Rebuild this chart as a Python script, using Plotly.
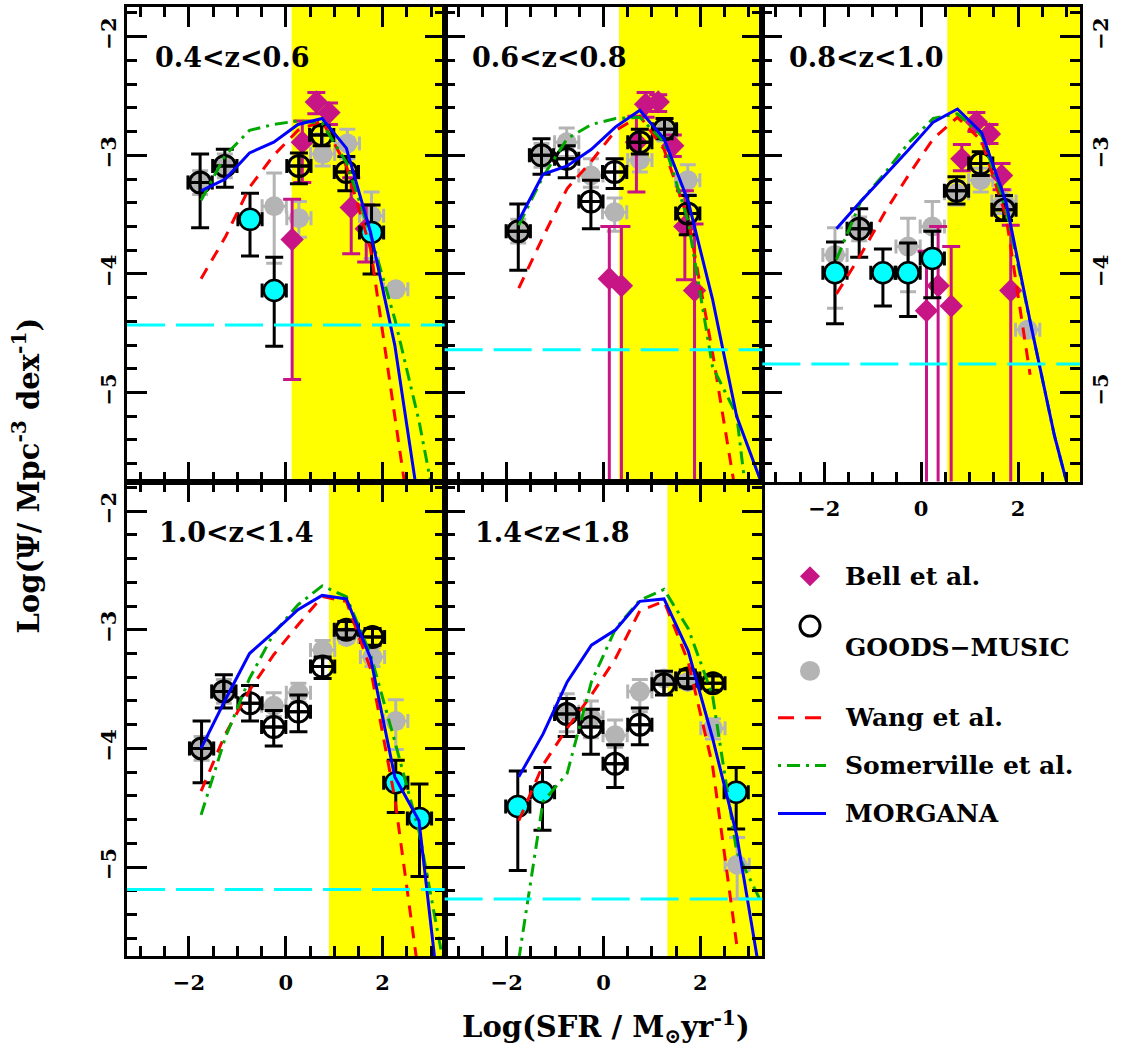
import plotly.graph_objects as go

FONT = "DejaVu Serif"

panel_labels = ["0.4<z<0.6", "0.6<z<0.8", "0.8<z<1.0", "1.0<z<1.4", "1.4<z<1.8"]

# model curves (log SFR grid)
model_x = [-1.75, -1.25, -0.75, -0.25, 0.25, 0.75, 1.25, 1.75, 2.25, 2.75, 3.25]
morgana_y = [
    [-3.30, -3.20, -2.98, -2.89, -2.74, -2.69, -2.94, -3.65, -4.60, -5.96, None],
    [-3.55, -3.16, -3.09, -2.95, -2.76, -2.62, -2.86, -3.39, -4.21, -5.20, -5.75],
    [-3.62, -3.39, -3.17, -2.95, -2.72, -2.61, -2.81, -3.39, -4.40, -5.36, -6.14],
    [-4.00, -3.59, -3.20, -3.02, -2.83, -2.71, -2.74, -3.24, -4.24, -4.61, -6.40],
    [-4.24, -3.88, -3.44, -3.13, -3.00, -2.76, -2.74, -3.18, -3.91, -4.73, -5.95],
]
somerville_y = [
    [-3.38, -3.00, -2.79, -2.74, -2.71, -2.73, -3.06, -3.67, -4.38, -5.24, -6.30],
    [-3.59, -3.18, -2.86, -2.74, -2.69, -2.68, -2.89, -3.56, -4.78, -5.19, -6.90],
    [-3.88, -3.39, -3.15, -2.89, -2.69, -2.65, -2.83, -3.45, -4.40, -5.36, -6.14],
    [-4.56, -3.91, -3.41, -3.03, -2.79, -2.63, -2.72, -3.21, -3.94, -4.70, -5.80],
    [-5.78, -4.45, -4.21, -3.44, -2.99, -2.75, -2.66, -2.99, -3.55, -4.87, -5.29],
]
wang_y = [
    [-4.04, -3.69, -3.27, -3.00, -2.79, -2.71, -3.09, -3.79, -5.20, -6.60, None],
    [-4.12, -3.69, -3.28, -3.05, -2.79, -2.67, -2.95, -3.54, -4.66, -5.90, None],
    [-4.17, -3.84, -3.48, -3.16, -2.86, -2.68, -2.88, -3.51, -4.85, None, None],
    [-4.36, -3.88, -3.51, -3.21, -2.96, -2.72, -2.76, -3.33, -4.42, -5.93, None],
    [-4.61, -4.14, -3.83, -3.55, -3.24, -2.84, -2.76, -3.27, -4.14, -5.65, None],
]

completeness_limit = [-4.43, -4.64, -4.76, -5.19, -5.27]
yellow_start = [0.12, 0.32, 0.54, 0.89, 1.32]
sfr_bin_half = 0.25

# GOODS-MUSIC open symbols
open_x = [
    [-1.77, -1.26, 0.27, 0.74, 1.25],
    [-1.76, -1.28, -0.76, -0.26, 0.23, 0.75, 1.26, 1.74],
    [-1.28, 0.73, 1.23, 1.71],
    [-1.74, -1.28, -0.74, -0.25, 0.26, 0.76, 1.25, 1.79],
    [-0.76, -0.26, 0.24, 0.75, 1.25, 1.74, 2.26],
]
open_y = [
    [-3.23, -3.09, -3.09, -2.83, -3.14],
    [-3.64, -3.00, -3.03, -3.39, -3.14, -2.89, -2.78, -3.49],
    [-3.62, -3.30, -3.07, -3.46],
    [-4.00, -3.52, -3.62, -3.82, -3.69, -3.31, -3.00, -3.06],
    [-3.71, -3.82, -4.13, -3.80, -3.46, -3.41, -3.45],
]
open_up = [
    [0.24, 0.14, 0.11, 0.08, 0.13],
    [0.23, 0.14, 0.11, 0.18, 0.11, 0.11, 0.09, 0.15],
    [0.17, 0.12, 0.10, 0.12],
    [0.23, 0.14, 0.15, 0.14, 0.14, 0.08, 0.07, 0.07],
    [0.13, 0.15, 0.16, 0.14, 0.11, 0.07, 0.06],
]
open_dn = [
    [0.38, 0.18, 0.15, 0.09, 0.16],
    [0.33, 0.16, 0.16, 0.23, 0.14, 0.10, 0.08, 0.18],
    [0.24, 0.11, 0.10, 0.09],
    [0.29, 0.14, 0.15, 0.16, 0.17, 0.10, 0.07, 0.07],
    [0.19, 0.23, 0.20, 0.17, 0.09, 0.07, 0.06],
]

# GOODS-MUSIC cyan symbols
cyan_x = [[-0.74, -0.24, 1.77], [], [-1.78, -0.79, -0.27, 0.23], [2.27, 2.76], [-1.77, -1.26, 2.74]]
cyan_y = [[-3.54, -4.14, -3.65], [], [-3.99, -3.99, -3.99, -3.87], [-4.29, -4.59], [-4.49, -4.37, -4.37]]
cyan_up = [[0.22, 0.28, 0.23], [], [0.26, 0.20, 0.25, 0.23], [0.19, 0.29], [0.30, 0.21, 0.21]]
cyan_dn = [[0.31, 0.47, 0.35], [], [0.43, 0.28, 0.37, 0.33], [0.25, 0.49], [0.54, 0.32, 0.31]]

# GOODS-MUSIC grey filled symbols
gray_x = [
    [-1.77, -1.26, -0.24, 0.27, 0.76, 1.27, 1.77, 2.27],
    [-1.76, -1.28, -0.76, -0.26, 0.23, 0.75, 1.26, 1.74],
    [-1.78, -1.28, -0.27, 0.23, 0.73, 1.23, 1.71, 2.20],
    [-1.74, -1.28, -0.25, 0.26, 0.76, 1.25, 1.79, 2.27],
    [-0.76, -0.26, 0.24, 0.75, 1.25, 1.74, 2.26, 2.76],
]
gray_y = [
    [-3.23, -3.09, -3.43, -3.53, -2.99, -2.90, -3.51, -4.13],
    [-3.64, -3.00, -2.89, -3.17, -3.48, -3.04, -2.80, -3.21],
    [-3.84, -3.62, -3.77, -3.60, -3.32, -3.21, -3.39, -4.47],
    [-4.00, -3.52, -3.64, -3.53, -3.17, -3.06, -3.23, -3.77],
    [-3.69, -3.74, -3.89, -3.52, -3.41, -3.44, -3.83, -4.98],
]
gray_up = [
    [0.10, 0.10, 0.28, 0.14, 0.17, 0.12, 0.20, None],
    [0.10, 0.10, 0.12, 0.14, 0.12, 0.15, 0.08, 0.13],
    [0.23, 0.10, 0.24, 0.21, 0.10, 0.10, 0.10, None],
    [0.10, 0.10, 0.11, 0.08, 0.08, 0.05, 0.08, 0.18],
    [0.15, 0.14, 0.13, 0.10, 0.05, 0.05, 0.08, 0.23],
]
gray_dn = [
    [0.10, 0.10, 0.48, 0.16, 0.10, 0.13, 0.36, None],
    [0.10, 0.10, 0.12, 0.10, 0.16, 0.10, 0.08, 0.12],
    [0.45, 0.10, 0.38, 0.20, 0.10, 0.10, 0.10, None],
    [0.10, 0.10, 0.09, 0.08, 0.07, 0.05, 0.08, 0.24],
    [0.17, 0.17, 0.10, 0.17, 0.05, 0.05, 0.09, 0.29],
]

# Bell et al.
bell_x = [
    [0.63, 0.89, 0.34, 1.35, 0.13, 1.66],
    [0.87, 1.13, 0.68, 1.43, 0.12, 0.37, 1.88, 1.68],
    [1.14, 1.41, 0.84, 1.66, 0.11, 0.35, 0.62, 1.85],
    [],
    [],
]
bell_y = [
    [-2.55, -2.64, -2.89, -3.44, -3.71, -3.62],
    [-2.57, -2.55, -2.89, -2.92, -4.04, -4.10, -4.14, -3.60],
    [-2.72, -2.82, -3.03, -3.17, -4.31, -4.10, -4.27, -4.14],
    [],
    [],
]
bell_up = [
    [0.08, 0.08, 0.18, 0.25, 0.34, 0.20],
    [0.10, 0.06, 0.22, 0.09, 0.44, 0.50, 0.56, 0.30],
    [0.08, 0.08, 0.12, 0.10, 0.50, 0.50, 0.50, 0.55],
    [],
    [],
]
bell_dn = [
    [0.10, 0.10, 0.34, 0.39, 1.18, 0.28],
    [0.11, 0.08, 0.42, 0.09, 3.0, 3.0, 3.0, 0.45],
    [0.08, 0.08, 0.10, 0.12, 3.0, 3.0, 3.0, 3.0],
    [],
    [],
]

X_RANGE = [-3.28, 3.28]
Y_RANGE = [-5.75, -1.75]

BLACK = "black"
GREY = "#b4b4b4"
MAGENTA = "#c71585"
CYAN = "#00ffff"
YELLOW = "#ffff00"
RED = "#ff0000"
GREEN = "#00a800"
BLUE = "#0000ff"

fig = go.Figure()

x_domains = [[0, 1 / 3], [1 / 3, 2 / 3], [2 / 3, 1], [0, 1 / 3], [1 / 3, 2 / 3]]
y_domains = [[0.5, 1], [0.5, 1], [0.5, 1], [0, 0.5], [0, 0.5]]


def ax_names(i):
    return ("x" if i == 0 else f"x{i+1}", "y" if i == 0 else f"y{i+1}")


for i in range(5):
    xa, ya = ax_names(i)
    # grey filled GOODS-MUSIC
    fig.add_trace(go.Scatter(
        x=gray_x[i], y=gray_y[i], mode="markers", xaxis=xa, yaxis=ya, showlegend=False,
        marker=dict(color=GREY, size=20, line=dict(width=0)),
        error_y=dict(type="data", symmetric=False, array=gray_up[i], arrayminus=gray_dn[i],
                     color=GREY, thickness=3, width=8),
        error_x=dict(type="constant", value=sfr_bin_half, color=GREY, thickness=3, width=7),
    ))
    # Bell et al.
    if bell_x[i]:
        fig.add_trace(go.Scatter(
            x=bell_x[i], y=bell_y[i], mode="markers", xaxis=xa, yaxis=ya, showlegend=False,
            marker=dict(color=MAGENTA, size=18, symbol="diamond", line=dict(width=0)),
            error_y=dict(type="data", symmetric=False, array=bell_up[i], arrayminus=bell_dn[i],
                         color=MAGENTA, thickness=3, width=9),
        ))
    # cyan GOODS-MUSIC
    if cyan_x[i]:
        fig.add_trace(go.Scatter(
            x=cyan_x[i], y=cyan_y[i], mode="markers", xaxis=xa, yaxis=ya, showlegend=False,
            marker=dict(color=CYAN, size=21, line=dict(color=BLACK, width=2.5)),
            error_y=dict(type="data", symmetric=False, array=cyan_up[i], arrayminus=cyan_dn[i],
                         color=BLACK, thickness=3, width=9),
            error_x=dict(type="constant", value=sfr_bin_half, color=BLACK, thickness=3, width=7),
        ))
    # open GOODS-MUSIC
    fig.add_trace(go.Scatter(
        x=open_x[i], y=open_y[i], mode="markers", xaxis=xa, yaxis=ya, showlegend=False,
        marker=dict(symbol="circle-cross-open", size=21, color=BLACK, line=dict(color=BLACK, width=3)),
        error_y=dict(type="data", symmetric=False, array=open_up[i], arrayminus=open_dn[i],
                     color=BLACK, thickness=3, width=9),
        error_x=dict(type="constant", value=sfr_bin_half, color=BLACK, thickness=3, width=7),
    ))
    # models
    fig.add_trace(go.Scatter(x=model_x, y=wang_y[i], mode="lines", xaxis=xa, yaxis=ya,
                             showlegend=False, line=dict(color=RED, width=3, dash="12px,9px")))
    fig.add_trace(go.Scatter(x=model_x, y=somerville_y[i], mode="lines", xaxis=xa, yaxis=ya,
                             showlegend=False,
                             line=dict(color=GREEN, width=3, dash="13px,6px,3px,6px")))
    fig.add_trace(go.Scatter(x=model_x, y=morgana_y[i], mode="lines", xaxis=xa, yaxis=ya,
                             showlegend=False, line=dict(color=BLUE, width=3)))

    # yellow region
    fig.add_shape(type="rect", xref=xa, yref=f"{ya} domain", x0=yellow_start[i], x1=X_RANGE[1],
                  y0=0, y1=1, fillcolor=YELLOW, line=dict(width=0), layer="below")
    # completeness limit
    fig.add_shape(type="line", xref=f"{xa} domain", yref=ya, x0=0, x1=1,
                  y0=completeness_limit[i], y1=completeness_limit[i],
                  line=dict(color=CYAN, width=3, dash="38px,11px"), layer="above")
    # panel label
    fig.add_annotation(text=panel_labels[i], xref=f"{xa} domain", yref=f"{ya} domain",
                       x=[0.082, 0.079, 0.079, 0.094, 0.088][i], y=0.893,
                       xanchor="left", yanchor="middle", showarrow=False,
                       font=dict(family=FONT, size=27, color=BLACK, weight="bold"))

tick_font = dict(family=FONT, size=21, color=BLACK, weight="bold")
for i in range(5):
    xa_key = "xaxis" if i == 0 else f"xaxis{i+1}"
    ya_key = "yaxis" if i == 0 else f"yaxis{i+1}"
    xa, ya = ax_names(i)
    common = dict(showline=True, linewidth=3, linecolor=BLACK, mirror="allticks",
                  ticks="inside", ticklen=20, tickwidth=2.5, tickcolor=BLACK,
                  showgrid=False, zeroline=False, tickfont=tick_font, fixedrange=True)
    fig.layout[xa_key] = dict(
        domain=x_domains[i], anchor=ya, range=X_RANGE, tickmode="linear", tick0=0, dtick=2,
        showticklabels=(i in (2, 3, 4)),
        minor=dict(ticks="inside", ticklen=10, tickwidth=2.5, tickcolor=BLACK, dtick=0.5,
                   tick0=0, showgrid=False),
        ticklabelstandoff=6,
        **common)
    fig.layout[ya_key] = dict(
        domain=y_domains[i], anchor=xa, range=Y_RANGE, tickmode="linear", tick0=0, dtick=1,
        showticklabels=(i in (0, 2, 3)), side=("right" if i == 2 else "left"),
        tickangle=-90,
        minor=dict(ticks="inside", ticklen=10, tickwidth=2.5, tickcolor=BLACK, dtick=0.2,
                   tick0=0, showgrid=False),
        **common)

# axis titles
L, R, T, B = 127, 42, 4, 98
W, H = 1122, 1054
PW, PH = W - L - R, H - T - B


def px(xp):
    return (xp - L) / PW


def py(yp):
    return (H - B - yp) / PH


title_font = dict(family=FONT, size=29, color=BLACK, weight="bold")
fig.add_annotation(text="Log(SFR / M<sub>⊙</sub>yr<sup>-1</sup>)", xref="paper", yref="paper",
                   x=px(606), y=py(1027), xanchor="center", yanchor="middle",
                   showarrow=False, font=title_font)
fig.add_annotation(text="Log(Ψ/ Mpc<sup>-3</sup> dex<sup>-1</sup>)", xref="paper", yref="paper",
                   x=px(26), y=py(474), xanchor="center", yanchor="middle", textangle=-90,
                   showarrow=False, font=title_font)

# legend (manual)
leg_font = dict(family=FONT, size=25, color=BLACK, weight="bold")
sx = 810
r = 10
fig.add_shape(type="path", xref="paper", yref="paper",
              path=f"M {px(sx-r)},{py(575)} L {px(sx)},{py(575-r)} L {px(sx+r)},{py(575)} "
                   f"L {px(sx)},{py(575+r)} Z",
              fillcolor=MAGENTA, line=dict(width=0))
fig.add_shape(type="circle", xref="paper", yref="paper", x0=px(sx - r), x1=px(sx + r),
              y0=py(625 + r), y1=py(625 - r), line=dict(color=BLACK, width=3))
fig.add_shape(type="circle", xref="paper", yref="paper", x0=px(sx - r), x1=px(sx + r),
              y0=py(670 + r), y1=py(670 - r), fillcolor=GREY, line=dict(width=0))
fig.add_shape(type="line", xref="paper", yref="paper", x0=px(778), x1=px(821), y0=py(717),
              y1=py(717), line=dict(color=RED, width=3, dash="16px,11px"))
fig.add_shape(type="line", xref="paper", yref="paper", x0=px(778), x1=px(826), y0=py(765),
              y1=py(765), line=dict(color=GREEN, width=3, dash="3px,6px,13px,6px"))
fig.add_shape(type="line", xref="paper", yref="paper", x0=px(778), x1=px(826), y0=py(813),
              y1=py(813), line=dict(color=BLUE, width=3))
for txt, yy in [("Bell et al.", 575), ("GOODS−MUSIC", 647), ("Wang et al.", 717),
                ("Somerville et al.", 765), ("MORGANA", 813)]:
    fig.add_annotation(text=txt, xref="paper", yref="paper", x=px(843), y=py(yy),
                       xanchor="left", yanchor="middle", showarrow=False, font=leg_font)

fig.update_layout(
    width=W, height=H, autosize=False,
    margin=dict(l=L, r=R, t=T, b=B, pad=0),
    paper_bgcolor="white", plot_bgcolor="white",
    showlegend=False,
)

fig.write_html("out.html", post_script="document.body.style.margin='0';",
               config={"displayModeBar": False})
